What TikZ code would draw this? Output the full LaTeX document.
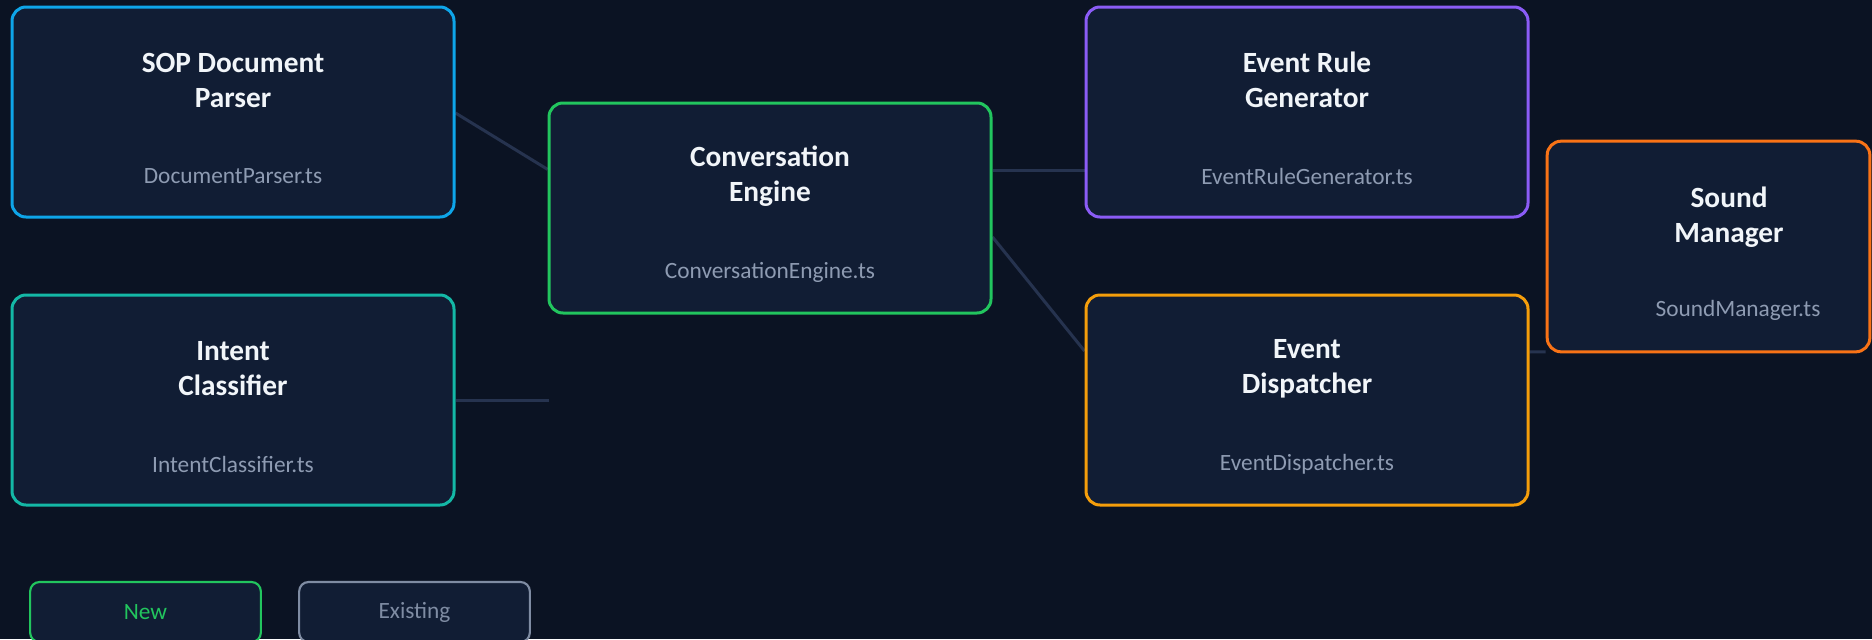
\documentclass[tikz,border=0pt]{standalone}
\usepackage{fontspec}
\setmainfont{Carlito}
\usepackage{xcolor}
\usepackage{tikz}
\usetikzlibrary{positioning}
\pgfdeclarelayer{background}
\pgfsetlayers{background,main}

\definecolor{bgcol}{HTML}{0B1323}
\definecolor{boxfill}{HTML}{111D34}
\definecolor{wirecol}{HTML}{26334F}
\definecolor{titlecol}{HTML}{F1F5F9}
\definecolor{filecol}{HTML}{8E9BB2}
\definecolor{parsercol}{HTML}{0EA5E9}
\definecolor{intentcol}{HTML}{14B8A6}
\definecolor{enginecol}{HTML}{22C55E}
\definecolor{rulecol}{HTML}{8B5CF6}
\definecolor{dispatchcol}{HTML}{F59E0B}
\definecolor{soundcol}{HTML}{F97316}
\definecolor{existcol}{HTML}{7F8CA3}

\begin{document}
\begin{tikzpicture}
            [
            x=0.75pt, y=-0.75pt,
            module/.style={draw=#1,line width=2.25pt,fill=boxfill,rounded corners=10.5pt,
                           minimum width=331.5pt,minimum height=157.5pt,inner sep=0pt},
            title/.style={text=titlecol,font=\bfseries\fontsize{22}{26.25}\selectfont,align=center},
            file/.style={text=filecol,font=\fontsize{17.5}{21}\selectfont},
            wire/.style={draw=wirecol,line width=2.25pt},
            key/.style={draw=#1,text=#1,line width=1.6pt,fill=boxfill,rounded corners=7pt,
                        minimum width=173pt,minimum height=45pt,font=\fontsize{17.5}{21}\selectfont}
            ]
        \useasboundingbox (0,0) rectangle (1872,639);

        % modules
        \node[module=parsercol] (parser) at (233,112) {};
        \node[module=intentcol] (intent) at (233,400) {};
        \node[module=enginecol] (engine) at (770,208) {};
        \node[module=rulecol] (rulegen) at (1307,112) {};
        \node[module=dispatchcol] (dispatch) at (1307,400) {};
        \node[module=soundcol,minimum width=242pt,minimum height=158pt] (sound) at (1708.5,246.5) {};

        \node[title] (parserT) at (233,80) {SOP Document\\Parser};
        \node[file] (parserF) at (233,176) {DocumentParser.ts};
        \node[title] (intentT) at (233,369) {Intent\\Classifier};
        \node[file] (intentF) at (233,464) {IntentClassifier.ts};
        \node[title] (engineT) at (770,176) {Conversation\\Engine};
        \node[file] (engineF) at (770,272) {ConversationEngine.ts};
        \node[title] (rulegenT) at (1307,80) {Event Rule\\Generator};
        \node[file] (rulegenF) at (1307,176) {EventRuleGenerator.ts};
        \node[title] (dispatchT) at (1307,369) {Event\\Dispatcher};
        \node[file] (dispatchF) at (1307,464) {EventDispatcher.ts};
        \node[title] (soundT) at (1729,217) {Sound\\Manager};
        \node[file] (soundF) at (1738,310) {SoundManager.ts};

        % legend
        \node[key=enginecol] (keynew) at (145.5,612) {New};
        \node[key=existcol] (keyold) at (414.5,612) {Existing};

        % links, behind the boxes
        \coordinate (intentEnd) at (549,400);
        \begin{pgfonlayer}{background}
        \fill[bgcol] (0,0) rectangle (1872,639);
        \draw[wire] ([yshift=-0.75pt]parser.east) -- ([yshift=29pt]engine.west);
        \draw[wire] (intent.east) -- (intentEnd);
        \draw[wire] ([yshift=28.5pt]engine.east) -- ([yshift=-43.5pt]rulegen.west);
        \draw[wire] ([yshift=-21.75pt]engine.east) -- ([yshift=36.75pt]dispatch.west);
        \draw[wire] ([yshift=36pt]dispatch.east) -- ([yshift=-79pt]sound.west);
        \end{pgfonlayer}
        \end{tikzpicture}
\end{document}
